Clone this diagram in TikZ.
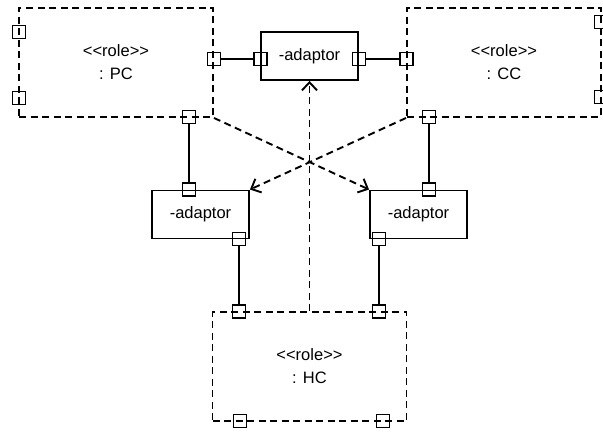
\documentclass[tikz,border=0pt]{standalone}
\usepackage{fontspec}
\setmainfont{Liberation Sans}
\usetikzlibrary{calc}
\usetikzlibrary{arrows.meta}
\tikzstyle{rolenode} = [draw, dash pattern=on 7pt off 4.5pt, rectangle, minimum width=194pt, minimum height=109pt, align=center]
\tikzstyle{partnode} = [draw, rectangle, minimum width=97pt, minimum height=48pt]
\tikzstyle{portnode} = [draw, rectangle, minimum size=13pt, inner sep=0pt]
\tikzstyle{dependency} = [dash pattern=on 7pt off 4.5pt, -{Straight Barb[length=8pt, width=15pt]}]
\newcommand{\rolelabel}[1]{<\kern0pt<role>\kern0pt>\\: #1}

\begin{document}
\begin{tikzpicture}[x=1pt, y=-1pt, line width=1.9pt, font=\fontsize{16.5}{23}\selectfont]
  \useasboundingbox (0,0) rectangle (603,433);

  \node[rolenode] (PC) at (116,62.5) {\rolelabel{PC}};
  \node[rolenode] (CC) at (504,62.5) {\rolelabel{CC}};
  \node[rolenode] (HC) at (309.5,366.5) {\rolelabel{HC}};
  \node[partnode] (adTop) at (309.5,56) {-adaptor};
  \node[partnode] (adL) at (200.5,214.5) {-adaptor};
  \node[partnode] (adR) at (418.5,214.5) {-adaptor};

  \node[portnode] (pcL1) at (19,32) {};
  \node[portnode] (pcL2) at (19,98) {};
  \node[portnode] (pcR) at (PC.east |- 0,59) {};
  \node[portnode] (pcB) at (189,117) {};
  \node[portnode] (ccL) at (CC.west |- 0,59) {};
  \node[portnode] (ccR1) at (601,22) {};
  \node[portnode] (ccR2) at (601,97) {};
  \node[portnode] (ccB) at (429,117) {};
  \node[portnode] (topL) at (adTop.west |- 0,59) {};
  \node[portnode] (topR) at (adTop.east |- 0,59) {};
  \node[portnode] (leftT) at (pcB |- adL.north) {};
  \node[portnode] (leftB) at (239,239) {};
  \node[portnode] (rightT) at (ccB |- adR.north) {};
  \node[portnode] (rightB) at (379,239) {};
  \node[portnode] (hcT1) at (leftB |- HC.north) {};
  \node[portnode] (hcT2) at (rightB |- HC.north) {};
  \node[portnode] (hcB1) at (240,421) {};
  \node[portnode] (hcB2) at (383,421) {};

  \draw (pcR) -- (topL);
  \draw (topR) -- (ccL);
  \draw (pcB) -- (leftT);
  \draw (ccB) -- (rightT);
  \draw (leftB) -- (hcT1);
  \draw (rightB) -- (hcT2);
  \draw[dependency] (PC.south east) -- (adR.north west);
  \draw[dependency] (CC.south west) -- (adL.north east);
  \draw[dependency] (HC.north) -- (adTop.south);
\end{tikzpicture}
\end{document}
